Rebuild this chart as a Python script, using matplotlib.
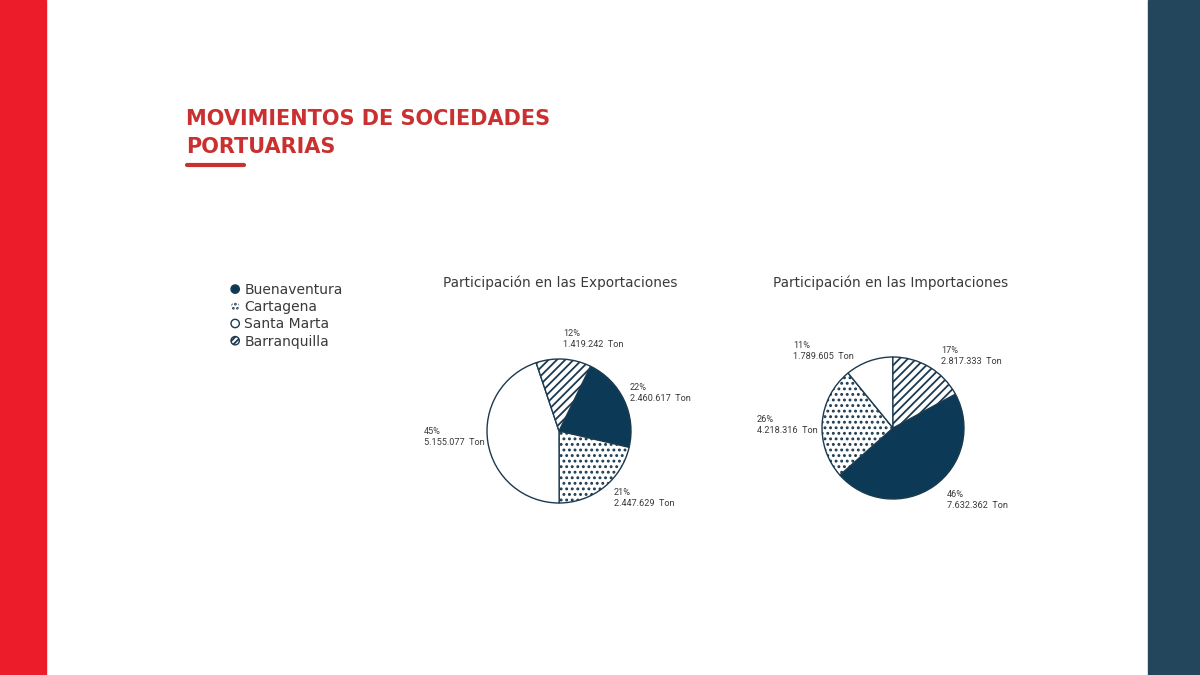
import matplotlib
matplotlib.use("Agg")
import matplotlib.pyplot as plt
import matplotlib.patches as mpatches
from matplotlib.legend_handler import HandlerPatch

# ---------------- data ----------------
ports = ["Buenaventura", "Cartagena", "Santa Marta", "Barranquilla"]
export_tons = [2460617, 2447629, 5155077, 1419242]
import_tons = [7632362, 4218316, 1789605, 2817333]
export_labels = ["22%\n2.460.617  Ton", "21%\n2.447.629  Ton",
                 "45%\n5.155.077  Ton", "12%\n1.419.242  Ton"]
import_labels = ["46%\n7.632.362  Ton", "26%\n4.218.316  Ton",
                 "11%\n1.789.605  Ton", "17%\n2.817.333  Ton"]
title_lines = ["MOVIMIENTOS DE SOCIEDADES", "PORTUARIAS"]
chart_titles = ["Participación en las Exportaciones",
                "Participación en las Importaciones"]

# ---------------- style ----------------
NAVY = "#0c3a56"
EDGE = "#1b3a50"
TEXT = "#3a3a3a"
RED_BAR = "#ec1c2a"
DARK_BAR = "#24465c"
TITLE_RED = "#c9302f"
face = [NAVY, "white", "white", "white"]
hatches = [None, "...", None, "////"]
legend_hatches = [None, "....", None, "//////"]

plt.rcParams["font.family"] = ["DejaVu Sans"]
plt.rcParams["hatch.color"] = EDGE
plt.rcParams["hatch.linewidth"] = 1.3

W, H = 1200, 675
fig = plt.figure(figsize=(12, 6.75), dpi=100)
fig.patch.set_facecolor("white")

bg = fig.add_axes([0, 0, 1, 1])
bg.set_xlim(0, W)
bg.set_ylim(H, 0)
bg.axis("off")

# side bars
bg.add_patch(mpatches.Rectangle((0, 0), 46, H, color=RED_BAR, zorder=1))
bg.add_patch(mpatches.Rectangle((1148, 0), 52, H, color=DARK_BAR, zorder=1))

# title
bg.text(186, 125, title_lines[0], color=TITLE_RED, fontsize=15.0,
        fontweight="bold", ha="left", va="baseline")
bg.text(186, 153, title_lines[1], color=TITLE_RED, fontsize=15.0,
        fontweight="bold", ha="left", va="baseline")
bg.plot([187, 244], [164.5, 164.5], color=TITLE_RED, lw=3,
        solid_capstyle="round")


def draw_pie(cx, cy, r, values, startangle, labels, label_pos, title, tx):
    size = 240
    ax = fig.add_axes([(cx - size / 2) / W, 1 - (cy + size / 2) / H,
                       size / W, size / H])
    wedges, _ = ax.pie(values, radius=r, startangle=startangle,
                       counterclock=False, colors=face,
                       wedgeprops=dict(edgecolor=EDGE, linewidth=1.0))
    ax.set_xlim(-size / 2, size / 2)
    ax.set_ylim(-size / 2, size / 2)
    ax.set_aspect("equal")
    ax.axis("off")
    for w, h in zip(wedges, hatches):
        if h:
            w.set_hatch(h)
    for lab, (lx, ly) in zip(labels, label_pos):
        bg.text(lx, ly, lab, fontsize=6.6, color=TEXT, ha="left",
                va="center", linespacing=1.25, multialignment="left",
                family="Roboto")
    bg.text(tx, 283, title, fontsize=9.8, color=TEXT, ha="center",
            va="center")
    return wedges


export_label_pos = [(630, 393), (614, 498), (424, 437), (563, 339)]
import_label_pos = [(947, 500), (757, 425), (793, 351), (941, 356)]

draw_pie(559, 431, 72, export_tons, 64, export_labels, export_label_pos,
         chart_titles[0], 560)
draw_pie(893, 428, 71, import_tons, 28.5, import_labels, import_label_pos,
         chart_titles[1], 891)

# legend
handles = []
for i, p in enumerate(ports):
    if i == 1:
        hp = mpatches.Patch(facecolor="white", edgecolor=EDGE, linewidth=0,
                            hatch=legend_hatches[i], label=p)
    else:
        hp = mpatches.Patch(facecolor=face[i], edgecolor=EDGE, linewidth=1,
                            hatch=legend_hatches[i], label=p)
    handles.append(hp)


def make_circle(legend, orig_handle, xdescent, ydescent, width, height,
                fontsize):
    r = min(width, height) / 2.0
    return mpatches.Circle((width / 2 - xdescent, height / 2 - ydescent), r)


leg = bg.legend(handles=handles, loc="upper left",
                bbox_to_anchor=(231, 283), bbox_transform=bg.transData,
                frameon=False, fontsize=10, handlelength=0.6,
                handleheight=0.6, handletextpad=0.35, labelspacing=0.23,
                borderpad=0, borderaxespad=0,
                handler_map={mpatches.Patch: HandlerPatch(patch_func=make_circle)})
for t in leg.get_texts():
    t.set_color(TEXT)

fig.savefig("out.png", dpi=100, facecolor="white")
